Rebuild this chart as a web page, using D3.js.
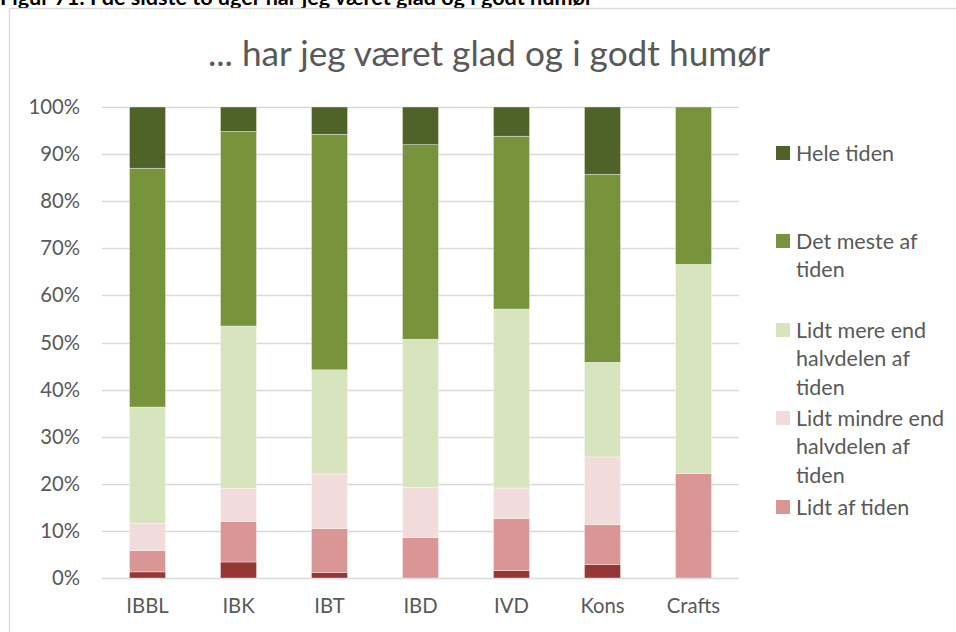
<!DOCTYPE html>
<html>
<head>
<meta charset="utf-8">
<script src="https://cdn.jsdelivr.net/npm/d3@7"></script>
<style>
  html, body { margin: 0; padding: 0; background: #fff; }
  svg { display: block; }
  text { font-family: "Lato", "Noto Sans", sans-serif; }
</style>
</head>
<body>
<svg id="chart" width="956" height="632"></svg>
<script>
// Survey answers per education programme (share of respondents)
const categories = ["IBBL", "IBK", "IBT", "IBD", "IVD", "Kons", "Crafts"];

// Answer options, bottom to top of each stacked bar
const seriesNames = [
  "På intet tidspunkt",
  "Lidt af tiden",
  "Lidt mindre end halvdelen af tiden",
  "Lidt mere end halvdelen af tiden",
  "Det meste af tiden",
  "Hele tiden"
];

// Percent values, one array per answer option, in category order
const paaIntetTidspunkt = [1.3, 3.4, 1.2, 0.0, 1.6, 2.9, 0.0];
const lidtAfTiden       = [4.5, 8.6, 9.3, 8.6, 11.0, 8.4, 22.2];
const lidtMindreEnd     = [5.8, 7.0, 11.6, 10.6, 6.5, 14.4, 0.0];
const lidtMereEnd       = [24.7, 34.5, 22.1, 31.5, 38.0, 20.1, 44.4];
const detMeste          = [50.7, 41.3, 50.0, 41.3, 36.7, 39.9, 33.4];
const heleTiden         = [13.0, 5.2, 5.8, 8.0, 6.2, 14.3, 0.0];

const seriesValues = [paaIntetTidspunkt, lidtAfTiden, lidtMindreEnd, lidtMereEnd, detMeste, heleTiden];
const seriesColors = ["#953735", "#D99694", "#F2DCDB", "#D7E4BD", "#77933C", "#4F6228"];

const yTicks = [0, 10, 20, 30, 40, 50, 60, 70, 80, 90, 100];

// Legend entries (top to bottom) with their wrapped lines
const legendItems = [
  { series: 5, lines: ["Hele tiden"] },
  { series: 4, lines: ["Det meste af", "tiden"] },
  { series: 3, lines: ["Lidt mere end", "halvdelen af", "tiden"] },
  { series: 2, lines: ["Lidt mindre end", "halvdelen af", "tiden"] },
  { series: 1, lines: ["Lidt af tiden"] }
];

const caption = "Figur 71: I de sidste to uger har jeg været glad og i godt humør";
const title = "... har jeg været glad og i godt humør";

// Build table rows for stacking
const rows = categories.map((c, i) => {
  const r = { cat: c };
  seriesNames.forEach((s, k) => { r[s] = seriesValues[k][i]; });
  return r;
});
const stacked = d3.stack().keys(seriesNames)(rows);

const svg = d3.select("#chart");
const textColor = "#595959";
const gridColor = "#D9D9D9";

// Fit a text element's font size to a target width
function fitWidth(sel, target) {
  const node = sel.node();
  const fs = parseFloat(sel.attr("font-size"));
  const w = node.getComputedTextLength();
  if (w > 0) sel.attr("font-size", (fs * target / w).toFixed(2));
}

// Figure caption above the chart frame
const cap = svg.append("text")
  .attr("x", 0).attr("y", 5)
  .attr("font-size", 16).attr("font-weight", "bold")
  .attr("fill", "#000")
  .text(caption);
fitWidth(cap, 593);

// Chart frame
svg.append("path")
  .attr("d", "M9.5,640 L9.5,8.5 L960,8.5")
  .attr("fill", "none")
  .attr("stroke", gridColor)
  .attr("stroke-width", 1.3);

// Chart title
const t = svg.append("text")
  .attr("x", 489).attr("y", 66)
  .attr("text-anchor", "middle")
  .attr("font-size", 31)
  .attr("fill", textColor)
  .text(title);
fitWidth(t, 562);

// Scales
const x = d3.scaleBand()
  .domain(categories)
  .range([102, 739])
  .paddingInner(0.604)
  .paddingOuter(0.302);

const y = d3.scaleLinear().domain([0, 100]).range([578, 107]);

// Gridlines
svg.append("g")
  .selectAll("line")
  .data(yTicks)
  .join("line")
  .attr("x1", 102).attr("x2", 739)
  .attr("y1", d => Math.round(y(d)) + 0.5)
  .attr("y2", d => Math.round(y(d)) + 0.5)
  .attr("stroke", gridColor)
  .attr("stroke-width", 1.3);

const axisFont = 20.3;

// Y axis labels
const yAxis = svg.append("g")
  .attr("transform", "translate(102,0)")
  .call(d3.axisLeft(y).tickValues(yTicks).tickFormat(d => d + "%").tickSize(0).tickPadding(22));
yAxis.select(".domain").remove();
yAxis.selectAll("text")
  .attr("font-family", "Lato, 'Noto Sans', sans-serif")
  .attr("font-size", axisFont)
  .attr("fill", textColor);

// Stacked bars
svg.append("g")
  .selectAll("g")
  .data(stacked)
  .join("g")
  .attr("fill", (d, i) => seriesColors[i])
  .selectAll("rect")
  .data(d => d)
  .join("rect")
  .attr("x", d => x(d.data.cat))
  .attr("width", x.bandwidth())
  .attr("y", d => y(d[1]))
  .attr("height", d => Math.max(0, y(d[0]) - y(d[1])))
  .attr("stroke", "#fff")
  .attr("stroke-opacity", d => (d[1] - d[0]) > 0 ? 0.6 : 0)
  .attr("stroke-width", 0.6);

// X axis labels
const xAxis = svg.append("g")
  .attr("transform", "translate(0,578)")
  .call(d3.axisBottom(x).tickSize(0).tickPadding(21));
xAxis.select(".domain").remove();
xAxis.selectAll("text")
  .attr("font-family", "Lato, 'Noto Sans', sans-serif")
  .attr("font-size", axisFont)
  .attr("fill", textColor);

// Legend
const legendTop = [153, 241, 330, 418, 507];
const lineH = 28.7;
const legendFont = 21.5;
const legend = svg.append("g");
legendItems.forEach((item, i) => {
  const g = legend.append("g").attr("transform", `translate(776,${legendTop[i]})`);
  g.append("rect")
    .attr("x", 0).attr("y", -7)
    .attr("width", 14).attr("height", 14)
    .attr("fill", seriesColors[item.series]);
  item.lines.forEach((ln, j) => {
    g.append("text")
      .attr("x", 20).attr("y", j * lineH)
      .attr("dy", "0.35em")
      .attr("font-size", legendFont)
      .attr("fill", textColor)
      .text(ln);
  });
});
</script>
</body>
</html>
